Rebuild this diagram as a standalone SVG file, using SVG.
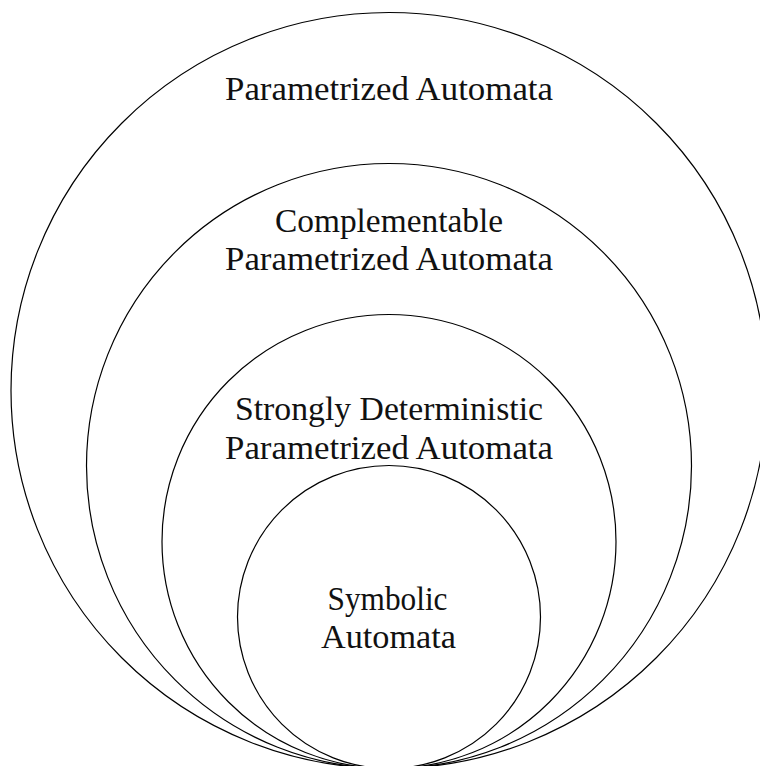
<svg xmlns="http://www.w3.org/2000/svg" width="760" height="766" viewBox="0 0 760 766">
<style>
.c{fill:none;stroke:#000;stroke-width:1.2}
.t{font-family:"Liberation Serif","Times New Roman",serif;font-size:33px;fill:#111;text-anchor:middle}
</style>
<rect width="760" height="766" fill="#fff"/>
<g id="parametrized">
<circle class="c" cx="389" cy="390.5" r="378"/>
<text class="t" x="389" y="100" textLength="328" lengthAdjust="spacingAndGlyphs">Parametrized Automata</text>
</g>
<g id="complementable">
<circle class="c" cx="389" cy="466" r="302.5"/>
<text class="t" x="389" y="231.5" textLength="228" lengthAdjust="spacingAndGlyphs">Complementable</text>
<text class="t" x="389" y="270" textLength="328" lengthAdjust="spacingAndGlyphs">Parametrized Automata</text>
</g>
<g id="strongly">
<circle class="c" cx="389" cy="541.5" r="227"/>
<text class="t" x="389" y="420" textLength="308" lengthAdjust="spacingAndGlyphs">Strongly Deterministic</text>
<text class="t" x="389" y="458.5" textLength="328" lengthAdjust="spacingAndGlyphs">Parametrized Automata</text>
</g>
<g id="symbolic">
<circle class="c" cx="389" cy="617" r="151.5"/>
<text class="t" x="387.5" y="610" textLength="120" lengthAdjust="spacingAndGlyphs">Symbolic</text>
<text class="t" x="388.5" y="648" textLength="135" lengthAdjust="spacingAndGlyphs">Automata</text>
</g>
<g id="connectors"/>
</svg>
